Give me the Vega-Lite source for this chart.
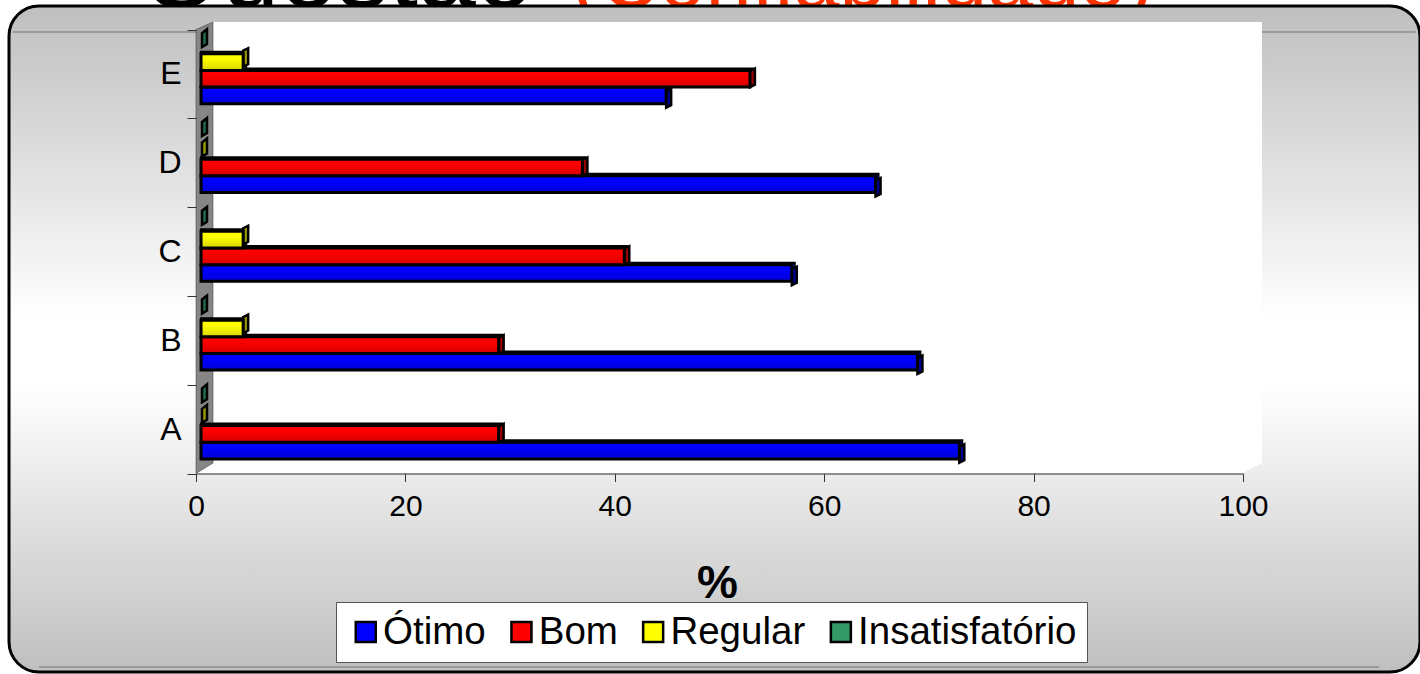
{
"$schema":"https://vega.github.io/schema/vega-lite/v6.json",
"width":1411,"height":666,"autosize":"none",
"padding":{"left":9,"top":6,"right":0,"bottom":2},
"background":"white",
"config":{"view":{"stroke":null},"font":"Liberation Sans"},
"data":{"values":[
{"cat":"A","series":"Ótimo","value":73},{"cat":"A","series":"Bom","value":29},{"cat":"A","series":"Regular","value":0},{"cat":"A","series":"Insatisfatório","value":0},
{"cat":"B","series":"Ótimo","value":69},{"cat":"B","series":"Bom","value":29},{"cat":"B","series":"Regular","value":4.6},{"cat":"B","series":"Insatisfatório","value":0},
{"cat":"C","series":"Ótimo","value":57},{"cat":"C","series":"Bom","value":41},{"cat":"C","series":"Regular","value":4.6},{"cat":"C","series":"Insatisfatório","value":0},
{"cat":"D","series":"Ótimo","value":65},{"cat":"D","series":"Bom","value":37},{"cat":"D","series":"Regular","value":0},{"cat":"D","series":"Insatisfatório","value":0},
{"cat":"E","series":"Ótimo","value":45},{"cat":"E","series":"Bom","value":53},{"cat":"E","series":"Regular","value":4.6},{"cat":"E","series":"Insatisfatório","value":0}
]},
"encoding":{
 "x":{"type":"quantitative","scale":{"domain":[0,100],"range":[187,1234]}},
 "y":{"type":"nominal","scale":{"domain":["E","D","C","B","A"],"range":[23.5,467.5],"paddingInner":0,"paddingOuter":0}}
},
"layer":[
{"data":{"values":[{"k":1}]},"mark":{"type":"text","text":"Questão","fontSize":104,"align":"left","baseline":"alphabetic","fill":"black","yOffset":-67},
 "encoding":{"x":{"datum":-5.3,"type":"quantitative"},"y":{"datum":"E"}}},
{"data":{"values":[{"k":1}]},"mark":{"type":"text","text":"(Confiabilidade)","fontSize":83,"align":"left","baseline":"alphabetic","fill":"#ff3300","yOffset":-67},
 "encoding":{"x":{"datum":35.9,"type":"quantitative"},"y":{"datum":"E"}}},
{"data":{"values":[{"k":1}]},"mark":{"type":"rect","cornerRadius":30,"stroke":"black","strokeWidth":3,
  "fill":{"gradient":"linear","x1":0,"y1":0,"x2":0,"y2":1,"stops":[{"offset":0,"color":"#bfbfbf"},{"offset":0.47,"color":"#ffffff"},{"offset":0.57,"color":"#ffffff"},{"offset":1,"color":"#bfbfbf"}]}},
 "encoding":{"x":{"datum":-17.86,"type":"quantitative"},"x2":{"datum":116.9}}},
{"data":{"values":[{"k":1}]},"mark":{"type":"rule","stroke":"#8c8c8c","strokeWidth":1.5,"yOffset":-42},
 "encoding":{"x":{"datum":-17.5,"type":"quantitative"},"x2":{"datum":116.5},"y":{"datum":"E"}}},
{"data":{"values":[{"k":1}]},"mark":{"type":"rule","stroke":"#8c8c8c","strokeWidth":1.5,"yOffset":238},
 "encoding":{"x":{"datum":-15,"type":"quantitative"},"x2":{"datum":113},"y":{"datum":"A"}}},
{"data":{"values":[{"k":1}]},"mark":{"type":"point","filled":true,"fill":"white","opacity":1,"size":4,"strokeWidth":0,"shape":"M0,44 L17,34 L17,-407 L1066,-407 L1066,34 L1047,44 Z"},
 "encoding":{"x":{"datum":0,"type":"quantitative"},"y":{"datum":"A"}}},
{"data":{"values":[{"k":1}]},"mark":{"type":"point","filled":true,"fill":"#868686","opacity":1,"size":4,"stroke":"#333333","strokeWidth":0.5,"shape":"M0,44.4 L17,34 L17,-407 L0,-399.6 Z"},
 "encoding":{"x":{"datum":0,"type":"quantitative"},"y":{"datum":"A"}}},
{"transform":[{"filter":"datum.value>0"}],"mark":{"type":"bar","stroke":"black","strokeWidth":2,"xOffset":2},
 "encoding":{"x":{"field":"value","type":"quantitative"},"x2":{"datum":0.48},"y":{"field":"cat"},
 "yOffset":{"field":"series","type":"nominal","scale":{"domain":["Insatisfatório","Regular","Bom","Ótimo"],"paddingInner":0,"paddingOuter":0.667,"range":[-5.5,83.3]}},
 "color":{"field":"series","type":"nominal","scale":{"domain":["Ótimo","Bom","Regular","Insatisfatório"],"range":["#0000ff","#ff0000","#ffff00","#339966"]},
  "legend":{"title":null,"orient":"none","legendX":327,"legendY":596,"direction":"horizontal","columns":4,"symbolType":"square","symbolSize":400,"symbolStrokeColor":"black","symbolStrokeWidth":2.5,"labelFontSize":38.5,"labelColor":"black","labelLimit":400,"labelOffset":-2,"columnPadding":15.7,"fillColor":"white","strokeColor":"#555555","padding":10.5}}}},
{"transform":[{"filter":"datum.value==0"}],"mark":{"type":"point","filled":true,"opacity":1,"size":4,"stroke":"black","strokeWidth":2.5,"xOffset":6,"shape":"M0,-6.5 L5,-10.5 L5,4.5 L0,7.5 Z"},
 "encoding":{"x":{"field":"value","type":"quantitative"},"y":{"field":"cat"},
 "yOffset":{"field":"series","type":"nominal","scale":{"domain":["Insatisfatório","Regular","Bom","Ótimo"],"paddingInner":0,"paddingOuter":0.667,"range":[-3.5,85.3]}},
 "fill":{"field":"series","type":"nominal","legend":null,"scale":{"domain":["Ótimo","Bom","Regular","Insatisfatório"],"range":["#000099","#990000","#999900","#1f6b4a"]}}}},
{"transform":[{"filter":"datum.value>0"}],"mark":{"type":"point","filled":true,"opacity":1,"size":4,"stroke":"black","strokeWidth":2.5,"xOffset":-1,"shape":"M0,-9.5 L5,-12 L5,4 L0,6.5 Z"},
 "encoding":{"x":{"field":"value","type":"quantitative"},"y":{"field":"cat"},
 "yOffset":{"field":"series","type":"nominal","scale":{"domain":["Insatisfatório","Regular","Bom","Ótimo"],"paddingInner":0,"paddingOuter":0.667,"range":[-3.5,85.3]}},
 "fill":{"field":"series","type":"nominal","legend":null,"scale":{"domain":["Ótimo","Bom","Regular","Insatisfatório"],"range":["#000099","#990000","#999900","#1f6b4a"]}}}},
{"transform":[{"filter":"datum.value>0"}],"mark":{"type":"bar","stroke":"black","strokeWidth":3,"xOffset":-1},
 "encoding":{"x":{"field":"value","type":"quantitative","axis":{"offset":-198.5,"values":[0,20,40,60,80,100],"grid":false,"zindex":1,"tickSize":8,"domainColor":"#333333","tickColor":"#333333","labelFontSize":30,"labelColor":"black","labelPadding":10,"labelFlush":false,"title":"%","titleFontSize":46,"titleFontWeight":"bold","titleColor":"black","titlePadding":40,"titleX":708}},
 "x2":{"datum":0.48},
 "y":{"field":"cat","type":"nominal","axis":{"offset":-187,"orient":"left","title":null,"domain":false,"grid":false,"zindex":1,"tickBand":"extent","tickSize":9,"tickColor":"#333333","labelFontSize":32,"labelColor":"black","labelPadding":6}},
 "yOffset":{"field":"series","type":"nominal","scale":{"domain":["Insatisfatório","Regular","Bom","Ótimo"],"paddingInner":0,"paddingOuter":0.667,"range":[-3.5,85.3]}},
 "color":{"field":"series","type":"nominal"}}},
{"transform":[{"filter":"datum.value>0"}],"mark":{"type":"bar","xOffset":-1,"fill":{"gradient":"linear","x1":0,"y1":0,"x2":0,"y2":1,"stops":[{"offset":0.3,"color":"rgba(0,0,0,0)"},{"offset":1,"color":"rgba(0,0,0,0.16)"}]}},
 "encoding":{"x":{"field":"value","type":"quantitative"},"x2":{"datum":0.48},"y":{"field":"cat"},
 "yOffset":{"field":"series","type":"nominal","scale":{"domain":["Insatisfatório","Regular","Bom","Ótimo"],"paddingInner":0,"paddingOuter":0.667,"range":[-3.5,85.3]}}}}
],
"resolve":{"scale":{"fill":"independent","yOffset":"independent"}}
}
